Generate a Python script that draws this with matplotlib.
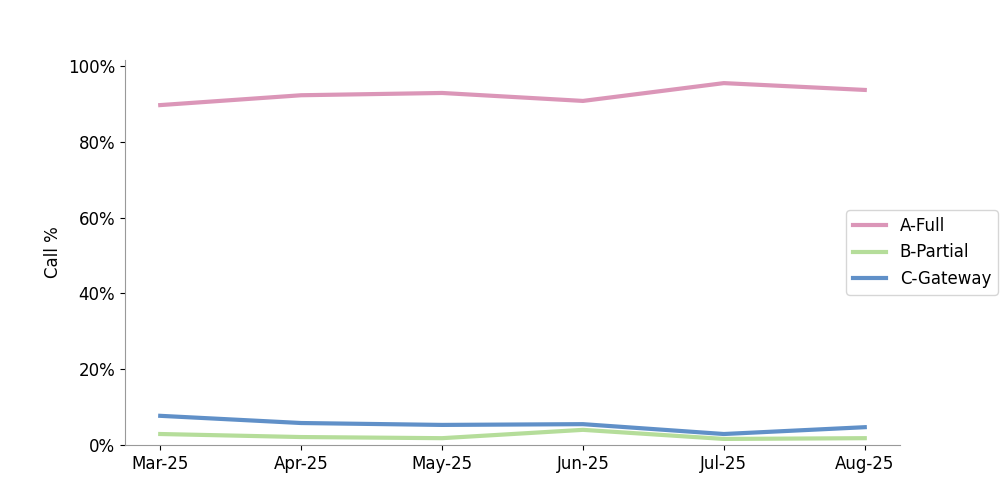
import matplotlib
matplotlib.use("Agg")
import matplotlib.pyplot as plt
from matplotlib.ticker import PercentFormatter

months = ["Mar-25", "Apr-25", "May-25", "Jun-25", "Jul-25", "Aug-25"]
a_full = [0.897, 0.923, 0.929, 0.908, 0.955, 0.937]
b_partial = [0.029, 0.021, 0.018, 0.040, 0.016, 0.018]
c_gateway = [0.077, 0.058, 0.053, 0.055, 0.029, 0.047]

fig = plt.figure(figsize=(10, 5), dpi=100)
ax = fig.add_axes([0.125, 0.11, 0.775, 0.77])
x = range(len(months))
ax.plot(x, a_full, color="#DB96B8", lw=3, label="A-Full")
ax.plot(x, b_partial, color="#B5DD9A", lw=3, label="B-Partial")
ax.plot(x, c_gateway, color="#6090C8", lw=3, label="C-Gateway")
ax.set_xticks(list(x))
ax.set_xticklabels(months, fontsize=12)
ax.set_ylim(0, 1.016)
ax.set_yticks([0, 0.2, 0.4, 0.6, 0.8, 1.0])
ax.yaxis.set_major_formatter(PercentFormatter(1.0, decimals=0))
ax.tick_params(axis="y", labelsize=12)
ax.set_ylabel("Call %", fontsize=12)
for s in ["top", "right"]:
    ax.spines[s].set_visible(False)
for s in ["left", "bottom"]:
    ax.spines[s].set_color("#999999")
ax.legend(loc="center left", bbox_to_anchor=(0.92, 0.5), fontsize=12)
fig.savefig("out.png")
